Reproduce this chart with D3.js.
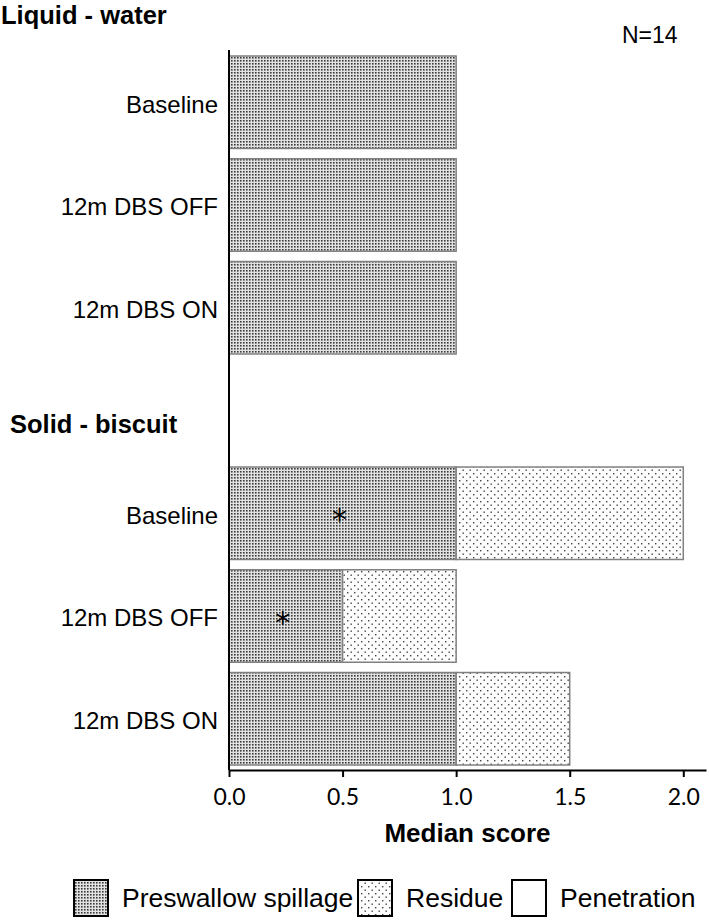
<!DOCTYPE html>
<html>
<head>
<meta charset="utf-8">
<script src="https://cdn.jsdelivr.net/npm/d3@7"></script>
<style>
  body { margin: 0; background: #fff; }
  svg { display: block; font-family: "Liberation Sans", Arial, sans-serif; }
</style>
</head>
<body>
<div id="chart"></div>
<script>
// data
const groups = ["Liquid - water", "Solid - biscuit"];
const conditions = ["Baseline", "12m DBS OFF", "12m DBS ON"];
const preswallow = [1, 1, 1, 1, 0.5, 1];
const residue = [0, 0, 0, 1, 0.5, 0.5];
const penetration = [0, 0, 0, 0, 0, 0];
const significant = [false, false, false, true, true, false];
const xTicks = [0, 0.5, 1, 1.5, 2];
const legendLabels = ["Preswallow spillage", "Residue", "Penetration"];

const width = 709, height = 920;

const svg = d3.select("#chart").append("svg")
    .attr("width", width)
    .attr("height", height);

// fill patterns
const defs = svg.append("defs");
const pre = defs.append("pattern").attr("id", "pre")
    .attr("patternUnits", "userSpaceOnUse").attr("width", 3).attr("height", 3);
pre.append("rect").attr("width", 3).attr("height", 3).attr("fill", "#e2e2e2");
pre.append("rect").attr("width", 1.6).attr("height", 1.6).attr("fill", "#3a3a3a");

const res = defs.append("pattern").attr("id", "res")
    .attr("patternUnits", "userSpaceOnUse").attr("width", 7).attr("height", 7);
res.append("rect").attr("width", 7).attr("height", 7).attr("fill", "#fdfdfd");
res.append("rect").attr("x", 0.5).attr("y", 0.5).attr("width", 1.4).attr("height", 1.4).attr("fill", "#444");
res.append("rect").attr("x", 4).attr("y", 4).attr("width", 1.4).attr("height", 1.4).attr("fill", "#444");

// rows: three liquid, a gap, three solid
const rows = [0, 1, 2, "gap", 3, 4, 5];
const y = d3.scaleBand().domain(rows).range([56, 765]).paddingInner(0.1);
const x = d3.scaleLinear().domain([0, 2.1]).range([229, 706]);

const data = preswallow.map((p, i) => ({
  i: i,
  label: conditions[i % 3],
  pre: p,
  res: residue[i],
  pen: penetration[i],
  sig: significant[i]
}));

// bars
const bars = svg.append("g");
bars.selectAll(".pre").data(data.filter(d => d.pre > 0)).enter().append("rect")
    .attr("x", x(0))
    .attr("y", d => y(d.i))
    .attr("width", d => x(d.pre) - x(0))
    .attr("height", y.bandwidth())
    .attr("fill", "url(#pre)")
    .attr("stroke", "#808080")
    .attr("stroke-width", 1.5);

bars.selectAll(".res").data(data.filter(d => d.res > 0)).enter().append("rect")
    .attr("x", d => x(d.pre))
    .attr("y", d => y(d.i))
    .attr("width", d => x(d.pre + d.res) - x(d.pre))
    .attr("height", y.bandwidth())
    .attr("fill", "url(#res)")
    .attr("stroke", "#808080")
    .attr("stroke-width", 1.5);

bars.selectAll(".pen").data(data.filter(d => d.pen > 0)).enter().append("rect")
    .attr("x", d => x(d.pre + d.res))
    .attr("y", d => y(d.i))
    .attr("width", d => x(d.pre + d.res + d.pen) - x(d.pre + d.res))
    .attr("height", y.bandwidth())
    .attr("fill", "#fff")
    .attr("stroke", "#808080")
    .attr("stroke-width", 1.5);

// asterisks
svg.selectAll(".star").data(data.filter(d => d.sig)).enter().append("text")
    .attr("x", d => x(d.pre / 2) - 3)
    .attr("y", d => y(d.i) + y.bandwidth() / 2 + 17)
    .attr("text-anchor", "middle")
    .attr("font-family", "'DejaVu Sans', sans-serif")
    .attr("font-size", 30)
    .text("*");

// category labels
svg.selectAll(".cat").data(data).enter().append("text")
    .attr("x", 218)
    .attr("y", d => y(d.i) + y.bandwidth() / 2 + 4)
    .attr("text-anchor", "end")
    .attr("dominant-baseline", "middle")
    .attr("font-size", 24)
    .text(d => d.label);

// group headings
svg.append("text").attr("x", 1).attr("y", 24)
    .attr("font-size", 25.5).attr("font-weight", "bold")
    .text(groups[0]);
svg.append("text").attr("x", 10).attr("y", y("gap") + y.bandwidth() / 2 + 22)
    .attr("font-size", 25.5).attr("font-weight", "bold")
    .text(groups[1]);

svg.append("text").attr("x", 622).attr("y", 43)
    .attr("font-size", 23)
    .text("N=14");

// y axis line
svg.append("line")
    .attr("x1", x(0)).attr("x2", x(0))
    .attr("y1", 50).attr("y2", 770)
    .attr("stroke", "#000").attr("stroke-width", 2);

// x axis
const xAxis = svg.append("g")
    .attr("transform", "translate(0,770)")
    .call(d3.axisBottom(x).tickValues(xTicks).tickFormat(d3.format(".1f"))
      .tickSize(7).tickSizeOuter(0));
xAxis.select(".domain").attr("stroke", "#000").attr("stroke-width", 2);
xAxis.selectAll(".tick line").attr("stroke", "#000").attr("stroke-width", 2);
xAxis.selectAll(".tick text")
    .attr("font-family", "Lato, 'Open Sans', sans-serif")
    .attr("font-size", 23)
    .attr("dy", 0)
    .attr("y", 35)
    .attr("fill", "#000");

svg.append("text")
    .attr("x", (x.range()[0] + x.range()[1]) / 2)
    .attr("y", 842)
    .attr("text-anchor", "middle")
    .attr("font-size", 26).attr("font-weight", "bold")
    .text("Median score");

// legend
const legendX = [74, 358, 512];
const legendFill = ["url(#pre)", "url(#res)", "#fff"];
const legend = svg.append("g");
legendLabels.forEach((lab, i) => {
  legend.append("rect")
      .attr("x", legendX[i]).attr("y", 880)
      .attr("width", 34).attr("height", 36)
      .attr("fill", legendFill[i])
      .attr("stroke", "#000").attr("stroke-width", 2);
  legend.append("text")
      .attr("x", legendX[i] + 48).attr("y", 907)
      .attr("font-size", 26.5)
      .text(lab);
});
</script>
</body>
</html>
